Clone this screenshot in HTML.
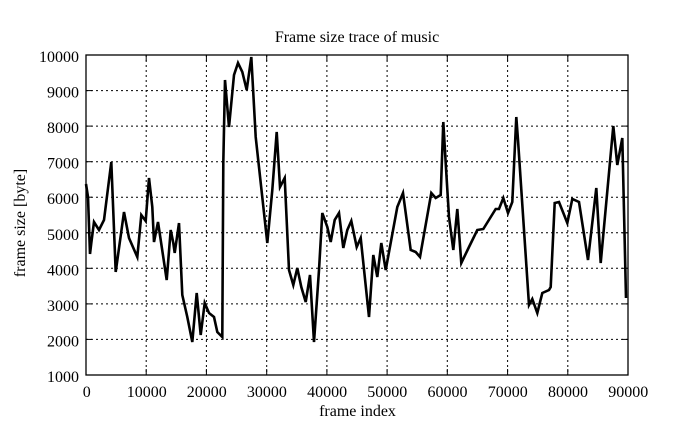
<!DOCTYPE html>
<html>
<head>
<meta charset="utf-8">
<style>
  html, body { margin: 0; padding: 0; background: #fff; }
  svg { display: block; }
  text { font-family: "Liberation Serif", "DejaVu Serif", serif; fill: #000; }
</style>
</head>
<body>
<svg width="695" height="429" viewBox="0 0 695 429" xmlns="http://www.w3.org/2000/svg">
  <rect x="0" y="0" width="695" height="429" fill="#fff"/>

  <!-- grid -->
  <g stroke="#000" stroke-width="1" stroke-dasharray="2,3" fill="none">
    <line x1="146.2" y1="55" x2="146.2" y2="375"/>
    <line x1="206.4" y1="55" x2="206.4" y2="375"/>
    <line x1="266.7" y1="55" x2="266.7" y2="375"/>
    <line x1="326.9" y1="55" x2="326.9" y2="375"/>
    <line x1="387.1" y1="55" x2="387.1" y2="375"/>
    <line x1="447.3" y1="55" x2="447.3" y2="375"/>
    <line x1="507.6" y1="55" x2="507.6" y2="375"/>
    <line x1="567.8" y1="55" x2="567.8" y2="375"/>

    <line x1="86" y1="90.6" x2="628" y2="90.6"/>
    <line x1="86" y1="126.1" x2="628" y2="126.1"/>
    <line x1="86" y1="161.7" x2="628" y2="161.7"/>
    <line x1="86" y1="197.2" x2="628" y2="197.2"/>
    <line x1="86" y1="232.8" x2="628" y2="232.8"/>
    <line x1="86" y1="268.3" x2="628" y2="268.3"/>
    <line x1="86" y1="303.9" x2="628" y2="303.9"/>
    <line x1="86" y1="339.4" x2="628" y2="339.4"/>
  </g>

  <!-- ticks -->
  <g stroke="#000" stroke-width="1">
    <line x1="86" y1="90.6" x2="92" y2="90.6"/><line x1="628" y1="90.6" x2="622" y2="90.6"/>
    <line x1="86" y1="126.1" x2="92" y2="126.1"/><line x1="628" y1="126.1" x2="622" y2="126.1"/>
    <line x1="86" y1="161.7" x2="92" y2="161.7"/><line x1="628" y1="161.7" x2="622" y2="161.7"/>
    <line x1="86" y1="197.2" x2="92" y2="197.2"/><line x1="628" y1="197.2" x2="622" y2="197.2"/>
    <line x1="86" y1="232.8" x2="92" y2="232.8"/><line x1="628" y1="232.8" x2="622" y2="232.8"/>
    <line x1="86" y1="268.3" x2="92" y2="268.3"/><line x1="628" y1="268.3" x2="622" y2="268.3"/>
    <line x1="86" y1="303.9" x2="92" y2="303.9"/><line x1="628" y1="303.9" x2="622" y2="303.9"/>
    <line x1="86" y1="339.4" x2="92" y2="339.4"/><line x1="628" y1="339.4" x2="622" y2="339.4"/>

    <line x1="146.2" y1="375" x2="146.2" y2="369"/><line x1="146.2" y1="55" x2="146.2" y2="61"/>
    <line x1="206.4" y1="375" x2="206.4" y2="369"/><line x1="206.4" y1="55" x2="206.4" y2="61"/>
    <line x1="266.7" y1="375" x2="266.7" y2="369"/><line x1="266.7" y1="55" x2="266.7" y2="61"/>
    <line x1="326.9" y1="375" x2="326.9" y2="369"/><line x1="326.9" y1="55" x2="326.9" y2="61"/>
    <line x1="387.1" y1="375" x2="387.1" y2="369"/><line x1="387.1" y1="55" x2="387.1" y2="61"/>
    <line x1="447.3" y1="375" x2="447.3" y2="369"/><line x1="447.3" y1="55" x2="447.3" y2="61"/>
    <line x1="507.6" y1="375" x2="507.6" y2="369"/><line x1="507.6" y1="55" x2="507.6" y2="61"/>
    <line x1="567.8" y1="375" x2="567.8" y2="369"/><line x1="567.8" y1="55" x2="567.8" y2="61"/>
  </g>

  <!-- frame -->
  <rect x="86" y="55" width="542" height="320" fill="none" stroke="#000" stroke-width="1.3"/>

  <!-- data -->
  <polyline fill="none" stroke="#000" stroke-width="2.6" stroke-linejoin="miter" stroke-miterlimit="4"
    points="86,184 88,197 90,254 91.3,243 94,222 99,230 104,220 111.3,162 115.7,272 124,212 129,238 137.3,257 141.3,215 145.7,221 149,178 152.3,207 154,242 158,222 166.7,280 170.7,230 173.3,243 174.7,253 179,223 182.3,295 187.3,317 192.3,342 196.7,293 200.7,335 204.7,303 209,313 214,317 217.3,332 222.3,337 223.3,163 225,80 229,127 234,75 238,63 242.3,72 246.7,90 251.3,57 255.7,137 267.3,243 272.3,190 276.7,132 280,187 284.7,178 289,270 293.3,285 297.3,268 301.3,287 305.7,302 310,275 314,342 319,270 322.3,213 327.3,227 330.7,242 334.7,220 339,213 343.3,248 347.3,230 351.3,221 356.7,247 360.7,238 369,317 373.3,255 377.3,277 381.3,243 385.7,270 397.3,207 403,193 410.7,250 415.7,252 420,257 431.3,193 435.7,198 440.7,195 443.3,122 445.7,163 449,217 453.3,250 457.3,209 461.3,263 469,247 477.3,230 483.3,229 495.7,209 499,209 503.3,198 508,213 512.3,202 516.3,117 518,140 529,305 532.3,299 537.3,313 542.3,293 549,290 550.7,287 554.7,203 559,202 567.3,223 572.3,199 579,202 588,260 596.3,188 600.7,263 613.3,126 617.3,165 622.3,138 626,298"/>

  <!-- title -->
  <text x="357" y="42" font-size="16" text-anchor="middle">Frame size trace of music</text>

  <!-- y tick labels -->
  <g font-size="16" text-anchor="end">
    <text x="79" y="62">10000</text>
    <text x="79" y="97.6">9000</text>
    <text x="79" y="133.1">8000</text>
    <text x="79" y="168.7">7000</text>
    <text x="79" y="204.2">6000</text>
    <text x="79" y="239.8">5000</text>
    <text x="79" y="275.3">4000</text>
    <text x="79" y="310.9">3000</text>
    <text x="79" y="346.4">2000</text>
    <text x="79" y="382">1000</text>
  </g>

  <!-- x tick labels -->
  <g font-size="16" text-anchor="middle">
    <text x="86.7" y="397">0</text>
    <text x="146.7" y="397">10000</text>
    <text x="206.7" y="397">20000</text>
    <text x="266.9" y="397">30000</text>
    <text x="327.1" y="397">40000</text>
    <text x="387.3" y="397">50000</text>
    <text x="447.5" y="397">60000</text>
    <text x="507.8" y="397">70000</text>
    <text x="568" y="397">80000</text>
    <text x="628.2" y="397">90000</text>
  </g>

  <!-- axis labels -->
  <text x="357.5" y="416" font-size="16" text-anchor="middle">frame index</text>
  <text x="0" y="0" font-size="16" text-anchor="middle" transform="translate(25,223) rotate(-90)">frame size [byte]</text>
</svg>
</body>
</html>
